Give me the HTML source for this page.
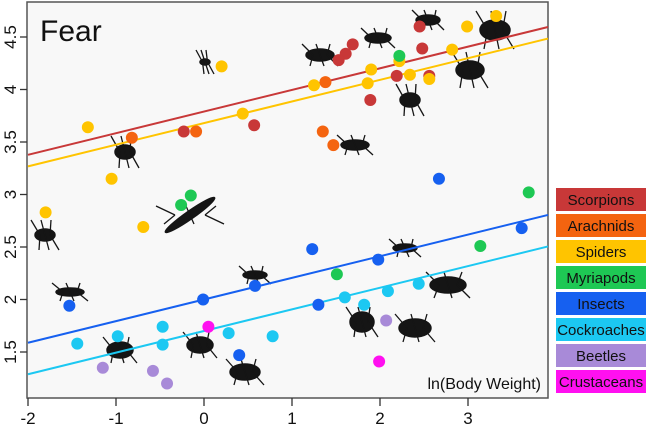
<!DOCTYPE html>
<html><head><meta charset="utf-8"><style>
body{margin:0;background:#fff;}
svg{display:block;font-family:"Liberation Sans",sans-serif;}
</style></head><body>
<svg id="chart" width="646" height="427">
<rect x="27" y="2" width="521" height="396" fill="#f8f8f8" stroke="#555" stroke-width="1.5"/>
<g id="sil" fill="#151515" stroke="#151515" stroke-width="1.5"></g>
<g id="lines"></g><g id="dots"></g><g id="axes"></g><g id="legend"></g>
<text x="40" y="41" font-size="30" fill="#111">Fear</text>
<text x="541" y="389" font-size="16" text-anchor="end" fill="#111">ln(Body Weight)</text>
</svg>
<script>
const groups=["Scorpions","Arachnids","Spiders","Myriapods","Insects","Cockroaches","Beetles","Crustaceans"];
const colors=["#c83838","#f46410","#ffc400","#1ec854","#1660f0","#1cc8f2","#a88ad8","#ff10f0"];
const scorpX=[0.57,-0.23,2.45,1.69,1.61,1.53,2.48,2.19,2.56,1.89];
const scorpY=[3.66,3.60,4.60,4.43,4.34,4.28,4.39,4.13,4.13,3.90];
const arachX=[-0.09,-0.82,1.38,1.35,1.47];
const arachY=[3.60,3.54,4.07,3.60,3.47];
const spiderX=[-1.32,0.20,0.44,-1.05,3.32,2.99,2.22,2.82,1.90,2.34,2.56,1.25,1.86,-1.80,-0.69];
const spiderY=[3.64,4.22,3.77,3.15,4.70,4.60,4.27,4.38,4.19,4.14,4.10,4.04,4.06,2.83,2.69];
const myriX=[-0.15,-0.26,2.22,3.69,3.14,1.51];
const myriY=[2.99,2.90,4.32,3.02,2.51,2.24];
const insectX=[2.67,-1.53,-0.01,0.58,0.40,1.23,3.61,1.98,1.30];
const insectY=[3.15,1.94,2.00,2.13,1.47,2.48,2.68,2.38,1.95];
const roachX=[-1.44,-0.98,-0.47,-0.47,0.28,0.78,2.44,2.09,1.60,1.82];
const roachY=[1.58,1.65,1.74,1.57,1.68,1.65,2.15,2.08,2.02,1.95];
const beetleX=[-1.15,-0.58,-0.42,2.07];
const beetleY=[1.35,1.32,1.20,1.80];
const crustX=[0.05,1.99];
const crustY=[1.74,1.41];
const lineIntercepts=[3.79,3.68,2.00,1.70];
const lineSlopes=[0.206,0.206,0.206,0.206];
const lineColorIdx=[0,2,4,5];
const xTicks=[-2,-1,0,1,2,3];
const yTicks=[1.5,2,2.5,3,3.5,4,4.5];

const NS="http://www.w3.org/2000/svg";
const sx=v=>28+(v+2)*88;
const sy=v=>37+(4.5-v)*105;
const X0=-2,X1=(548-28)/88-2;
function mk(t,a,p){const e=document.createElementNS(NS,t);for(const k in a)e.setAttribute(k,a[k]);p.appendChild(e);return e;}

const S=document.getElementById('sil');
const bugs=[[495,30,15,10],[470,70,14,9],[410,100,10,7],[205,62,5,3],[125,152,10,7],[45,235,10,6],[320,55,14,6],[378,38,13,5],[428,20,12,5],[355,145,14,5],[190,215,30,4],[255,275,12,4],[405,248,12,4],[120,350,13,8],[448,285,18,8],[245,372,15,8],[362,322,12,10],[415,328,16,9],[70,292,14,4],[200,345,13,8]];
bugs.forEach((b,i)=>{
 const g=mk('g',{},S);
 
 
 mk('ellipse',{cx:b[0],cy:b[1],rx:b[2],ry:b[3],transform:(i==10?`rotate(-35 ${b[0]} ${b[1]})`:'')},g);
 const leg=(i<6)?9:5;
 for(let k=-1;k<=1;k++){
  mk('line',{x1:b[0]+k*b[2]*0.5,y1:b[1],x2:b[0]+k*b[2]*1.0-4,y2:b[1]-b[3]-leg,'stroke-width':1.3},g);
  mk('line',{x1:b[0]+k*b[2]*0.5,y1:b[1],x2:b[0]+k*b[2]*1.0+4,y2:b[1]+b[3]+leg,'stroke-width':1.3},g);
 }
});

const L=document.getElementById('lines');
lineIntercepts.forEach((b,i)=>{
 const l=mk('line',{x1:sx(X0),y1:sy(b+lineSlopes[i]*X0),x2:sx(X1),y2:sy(b+lineSlopes[i]*X1),stroke:colors[lineColorIdx[i]],'stroke-width':2},L);
 
 
});

const D=document.getElementById('dots');
const series=[[scorpX,scorpY],[arachX,arachY],[spiderX,spiderY],[myriX,myriY],[insectX,insectY],[roachX,roachY],[beetleX,beetleY],[crustX,crustY]];
series.forEach((s,gi)=>{
 s[0].forEach((x,j)=>{
  const c=mk('circle',{cx:sx(x),cy:sy(s[1][j]),r:6,fill:colors[gi]},D);
  
  
 });
});

const A=document.getElementById('axes');
xTicks.forEach(t=>{
 const l=mk('line',{x1:sx(t),y1:398,x2:sx(t),y2:406,stroke:'#333','stroke-width':1.3},A);
 
 
 const tx=mk('text',{x:sx(t),y:424,'font-size':17,'text-anchor':'middle',fill:'#111'},A);
 tx.textContent=t;
 
 
});
yTicks.forEach(t=>{
 const l=mk('line',{x1:20,y1:sy(t),x2:27,y2:sy(t),stroke:'#333','stroke-width':1.3},A);
 
 
 const tx=mk('text',{x:16,y:sy(t),'font-size':17,'text-anchor':'middle',fill:'#111',transform:`rotate(-90 16 ${sy(t)})`},A);
 tx.textContent=t;
 
 
});

const G=document.getElementById('legend');
groups.forEach((g,i)=>{
 const y=188+i*26;
 const r=mk('rect',{x:556,y:y,width:90,height:23,fill:colors[i]},G);
 
 
 const t=mk('text',{x:601,y:y+17,'font-size':15,'text-anchor':'middle',fill:'#111'},G);
 t.textContent=g;
 
 
});
</script>
</body></html>
